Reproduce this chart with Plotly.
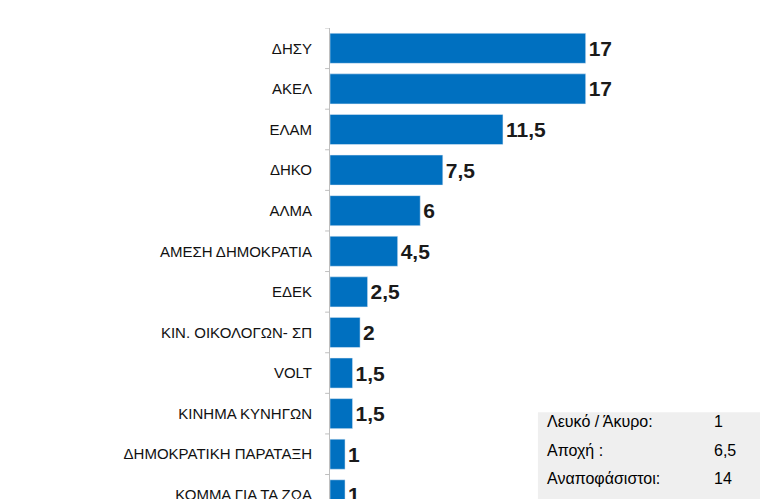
import plotly.graph_objects as go

parties = ["ΔΗΣΥ", "ΑΚΕΛ", "ΕΛΑΜ", "ΔΗΚΟ", "ΑΛΜΑ", "ΑΜΕΣΗ ΔΗΜΟΚΡΑΤΙΑ", "ΕΔΕΚ",
           "ΚΙΝ. ΟΙΚΟΛΟΓΩΝ- ΣΠ", "VOLT", "ΚΙΝΗΜΑ ΚΥΝΗΓΩΝ",
           "ΔΗΜΟΚΡΑΤΙΚΗ ΠΑΡΑΤΑΞΗ", "ΚΟΜΜΑ ΓΙΑ ΤΑ ΖΩΑ"]
values = [17, 17, 11.5, 7.5, 6, 4.5, 2.5, 2, 1.5, 1.5, 1, 1]
box_labels = ["Λευκό / Άκυρο:", "Αποχή :", "Αναποφάσιστοι:"]
box_values = ["1", "6,5", "14"]

fmt = lambda v: "<b>" + ("%g" % v).replace(".", ",") + "</b>"

fig = go.Figure(go.Bar(
    x=values, y=list(range(len(parties))), orientation="h",
    marker_color="#0070C0", width=0.74,
    text=[fmt(v) for v in values], textposition="outside", cliponaxis=False,
    textfont=dict(size=21, color="#1a1a1a", family="Liberation Sans"),
))

fig.update_layout(
    width=768, height=499, margin=dict(l=322, r=70, t=20, b=0, autoexpand=False),
    plot_bgcolor="white", paper_bgcolor="white", showlegend=False,
    font=dict(family="Liberation Sans", color="#111"),
    xaxis=dict(range=[0, 25], visible=False, automargin=False),
    yaxis=dict(range=[11.3, -0.5], tickmode="array", automargin=False,
               tickvals=list(range(len(parties))), ticktext=parties,
               tickfont=dict(size=15, color="#111"), showline=True,
               linecolor="#bfbfbf", ticks="", showgrid=False, zeroline=False,
               ticklabelstandoff=14),
)

# small tick marks between categories
for i in range(len(parties) + 1):
    fig.add_shape(type="line", xref="paper", yref="y", x0=-0.013, x1=0,
                  y0=i - 0.5, y1=i - 0.5, line=dict(color="#bfbfbf", width=1))

fig.add_shape(type="rect", xref="paper", yref="paper", x0=0.553, x1=1.178,
              y0=-0.01, y1=0.198, fillcolor="#efefef", line=dict(width=0), layer="below")
for i, (lab, val) in enumerate(zip(box_labels, box_values)):
    yy = (499 - (424 + i * 28.5)) / 479
    fig.add_annotation(xref="paper", yref="paper", x=0.572, y=yy, text=lab,
                       showarrow=False, xanchor="left", font=dict(size=16, color="#000"))
    fig.add_annotation(xref="paper", yref="paper", x=1.015, y=yy, text=val,
                       showarrow=False, xanchor="left", font=dict(size=16, color="#000"))

fig.write_html("out.html")
